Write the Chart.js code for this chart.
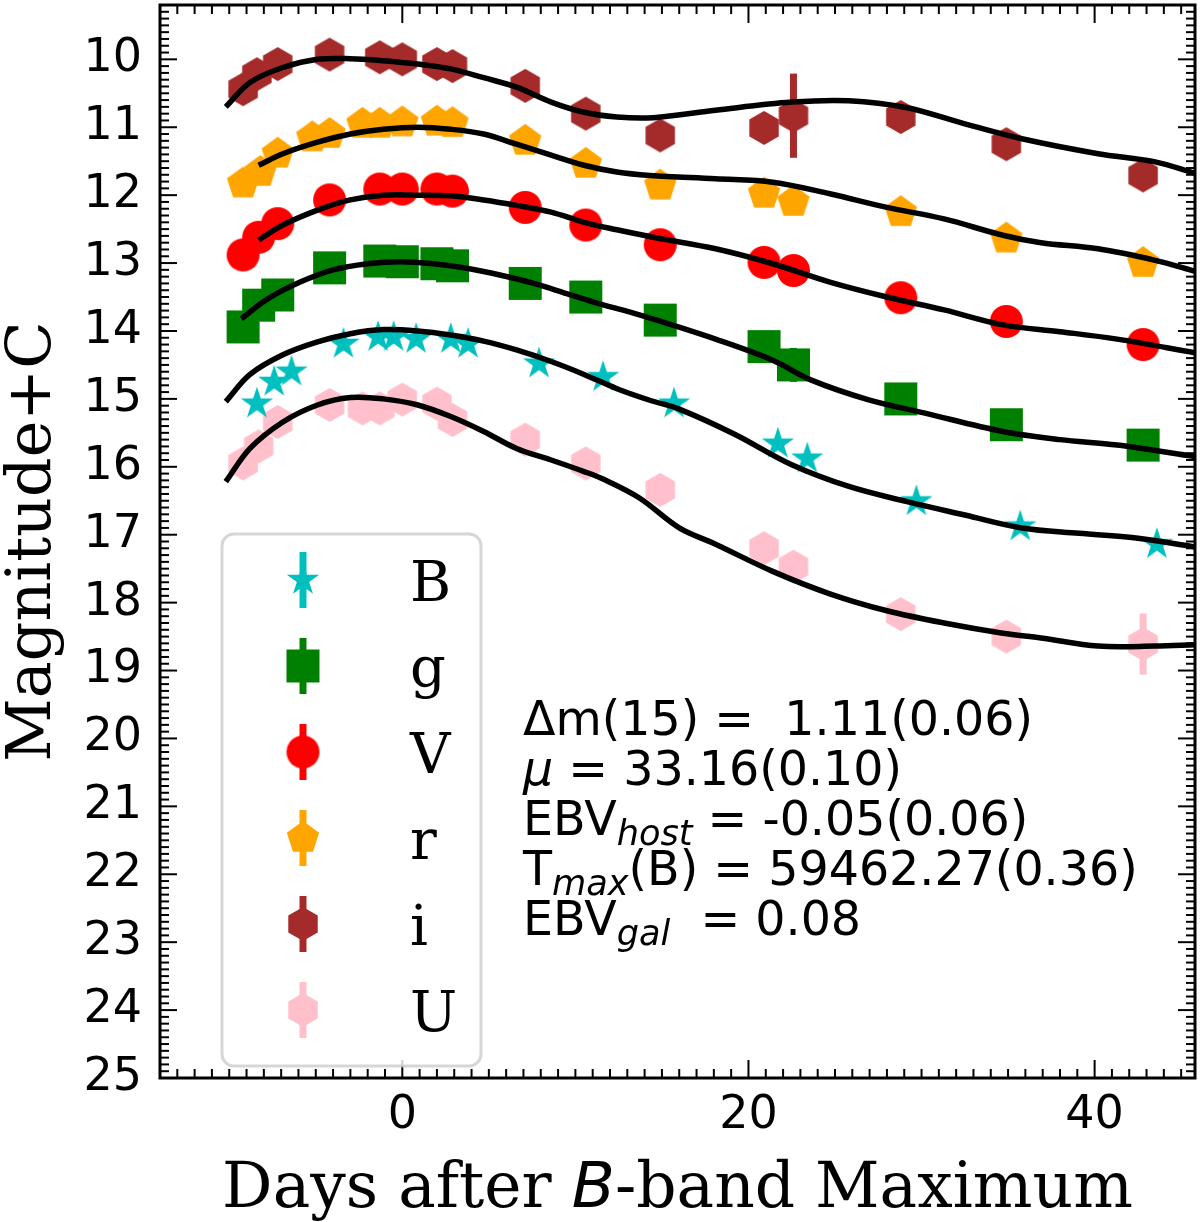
<!DOCTYPE html>
<html>
<head>
<meta charset="utf-8">
<script src="https://cdn.jsdelivr.net/npm/chart.js@4.4.0/dist/chart.umd.min.js"></script>
<style>
  html, body { margin: 0; padding: 0; background: #fff; }
</style>
</head>
<body>
<canvas id="lc" width="1200" height="1222"></canvas>
<script>
// ======================
// Photometry (phase in days from B max, magnitude + C)
// ======================
const bPhase = [-8.4, -7.4, -6.4, -3.4, -1.4, -0.5, 0.8, 2.8, 3.8, 7.9, 11.6, 15.7, 21.7, 23.4, 29.7, 35.7, 43.6];
const bMag   = [15.07, 14.75, 14.60, 14.19, 14.09, 14.09, 14.12, 14.12, 14.19, 14.48, 14.68, 15.07, 15.66, 15.88, 16.51, 16.88, 17.14];
const bErr   = [0.03, 0.03, 0.03, 0.03, 0.03, 0.03, 0.03, 0.03, 0.03, 0.03, 0.03, 0.03, 0.04, 0.04, 0.04, 0.05, 0.06];

const gPhase = [-9.2, -8.3, -7.2, -4.2, -1.3, 0.0, 2.0, 2.9, 7.1, 10.6, 14.9, 20.9, 22.6, 28.8, 34.9, 42.8];
const gMag   = [13.94, 13.62, 13.47, 13.07, 12.97, 12.98, 13.01, 13.04, 13.30, 13.50, 13.84, 14.23, 14.50, 15.00, 15.38, 15.68];
const gErr   = [0.03, 0.03, 0.03, 0.03, 0.03, 0.03, 0.03, 0.03, 0.03, 0.03, 0.03, 0.04, 0.25, 0.04, 0.05, 0.05];

const vPhase = [-9.2, -8.3, -7.2, -4.2, -1.3, 0.0, 2.0, 2.9, 7.1, 10.6, 14.9, 20.9, 22.6, 28.8, 34.9, 42.8];
const vMag   = [12.88, 12.62, 12.42, 12.07, 11.91, 11.91, 11.91, 11.94, 12.18, 12.44, 12.73, 12.99, 13.11, 13.51, 13.86, 14.20];
const vErr   = [0.03, 0.03, 0.03, 0.03, 0.03, 0.03, 0.03, 0.03, 0.03, 0.03, 0.03, 0.04, 0.05, 0.04, 0.05, 0.05];

const rPhase = [-9.2, -8.2, -7.2, -5.2, -4.2, -2.3, -1.3, 0.0, 2.0, 2.9, 7.1, 10.6, 14.9, 20.9, 22.6, 28.8, 34.9, 42.8];
const rMag   = [11.83, 11.66, 11.39, 11.15, 11.10, 10.95, 10.95, 10.93, 10.92, 10.94, 11.20, 11.54, 11.86, 11.98, 12.10, 12.25, 12.64, 13.00];
const rErr   = [0.03, 0.03, 0.03, 0.03, 0.03, 0.03, 0.03, 0.03, 0.03, 0.03, 0.03, 0.03, 0.03, 0.04, 0.17, 0.04, 0.05, 0.05];

const iPhase = [-9.2, -8.4, -7.2, -4.2, -1.3, 0.0, 2.0, 2.9, 7.1, 10.6, 14.9, 20.9, 22.6, 28.8, 34.9, 42.8];
const iMag   = [10.44, 10.22, 10.07, 9.93, 9.97, 10.00, 10.07, 10.10, 10.39, 10.80, 11.12, 11.01, 10.83, 10.85, 11.25, 11.71];
const iErr   = [0.03, 0.03, 0.03, 0.03, 0.03, 0.03, 0.03, 0.03, 0.03, 0.03, 0.03, 0.04, 0.62, 0.04, 0.05, 0.05];

const uPhase = [-9.2, -8.3, -7.2, -4.2, -2.3, -1.3, 0.0, 2.0, 2.9, 7.1, 10.6, 14.9, 20.9, 22.6, 28.8, 34.9, 42.8];
const uMag   = [15.95, 15.70, 15.34, 15.09, 15.14, 15.14, 15.01, 15.07, 15.31, 15.60, 15.95, 16.34, 17.20, 17.47, 18.17, 18.50, 18.61];
const uErr   = [0.04, 0.04, 0.04, 0.04, 0.04, 0.04, 0.04, 0.04, 0.04, 0.04, 0.05, 0.06, 0.08, 0.08, 0.08, 0.08, 0.45];

// ======================
// Template fits
// ======================
const bFitPhase = [-10.2, -8.8, -6.9, -4.9, -3.0, -1.1, 0.9, 2.8, 4.7, 6.6, 8.6, 10.5, 12.4, 14.3, 16.0, 19.2, 22.5, 25.8, 29.1, 32.5, 35.8, 39.1, 42.4, 45.8];
const bFitMag   = [15.04, 14.64, 14.35, 14.16, 14.04, 13.98, 14.00, 14.06, 14.15, 14.28, 14.45, 14.64, 14.85, 15.02, 15.15, 15.52, 15.97, 16.29, 16.51, 16.71, 16.90, 16.98, 17.05, 17.18];

const gFitPhase = [-9.3, -7.8, -5.9, -4.0, -2.0, -0.1, 1.8, 3.8, 5.7, 7.6, 9.5, 11.4, 13.4, 14.7, 18.1, 21.4, 23.6, 26.9, 30.2, 34.7, 38.0, 41.3, 45.8];
const gFitMag   = [13.82, 13.53, 13.28, 13.10, 13.01, 12.98, 13.01, 13.08, 13.18, 13.30, 13.45, 13.60, 13.74, 13.84, 14.12, 14.43, 14.72, 15.01, 15.21, 15.48, 15.60, 15.68, 15.85];

const vFitPhase = [-8.3, -6.9, -4.9, -3.0, -1.1, 0.9, 2.8, 4.7, 6.6, 8.6, 10.5, 12.4, 14.5, 18.1, 21.4, 24.7, 28.0, 31.3, 34.7, 38.0, 41.3, 45.8];
const vFitMag   = [12.66, 12.44, 12.22, 12.07, 12.00, 12.00, 12.01, 12.07, 12.15, 12.25, 12.40, 12.51, 12.62, 12.79, 13.01, 13.28, 13.50, 13.69, 13.91, 14.01, 14.12, 14.32];

const rFitPhase = [-8.3, -6.9, -4.9, -3.0, -1.1, 0.9, 2.8, 4.7, 6.6, 8.6, 10.5, 12.4, 14.3, 18.1, 21.4, 24.7, 28.0, 31.3, 34.7, 36.9, 40.2, 43.5, 45.8];
const rFitMag   = [11.56, 11.39, 11.22, 11.10, 11.03, 11.00, 11.03, 11.10, 11.25, 11.41, 11.56, 11.66, 11.71, 11.76, 11.81, 11.98, 12.18, 12.35, 12.59, 12.70, 12.79, 12.96, 13.12];

const iFitPhase = [-10.2, -8.8, -6.9, -4.9, -3.0, -1.1, 0.9, 2.8, 4.7, 6.6, 8.6, 10.5, 12.4, 14.5, 18.1, 22.5, 25.8, 29.1, 32.5, 35.8, 40.2, 43.5, 45.8];
const iFitMag   = [10.70, 10.34, 10.12, 10.00, 9.99, 10.02, 10.07, 10.14, 10.27, 10.41, 10.63, 10.78, 10.85, 10.86, 10.75, 10.63, 10.61, 10.71, 10.95, 11.17, 11.39, 11.51, 11.68];

const uFitPhase = [-10.2, -8.8, -6.9, -4.9, -3.0, -1.1, 0.9, 2.8, 4.7, 6.6, 8.6, 10.5, 11.5, 13.7, 16.0, 18.1, 21.4, 24.7, 28.0, 31.3, 34.7, 36.9, 40.2, 43.5, 45.8];
const uFitMag   = [16.22, 15.73, 15.34, 15.09, 14.98, 15.00, 15.09, 15.26, 15.48, 15.73, 15.90, 16.07, 16.17, 16.46, 16.90, 17.14, 17.54, 17.87, 18.12, 18.30, 18.45, 18.52, 18.64, 18.64, 18.62];

// axis ticks
const xTickValues = [0, 20, 40];
const yTickValues = [10, 11, 12, 13, 14, 15, 16, 17, 18, 19, 20, 21, 22, 23, 24, 25];

// fit parameters box
const fitLines = [
  [{ t: '\u0394m(15) =  1.11(0.06)' }],
  [{ t: '\u03bc', it: true }, { t: ' = 33.16(0.10)' }],
  [{ t: 'EBV' }, { t: 'host', it: true, sub: true }, { t: ' = -0.05(0.06)' }],
  [{ t: 'T' }, { t: 'max', it: true, sub: true }, { t: '(B) = 59462.27(0.36)' }],
  [{ t: 'EBV' }, { t: 'gal', it: true, sub: true }, { t: '  = 0.08' }]
];

// ======================
// Marker glyphs (matplotlib-like shapes)
// ======================
function makeMarker(shape, color, s) {
  const c = document.createElement('canvas');
  c.width = s + 4; c.height = s + 4;
  const g = c.getContext('2d');
  const cx = c.width / 2, cy = c.height / 2, r = s / 2;
  g.fillStyle = color;
  g.beginPath();
  if (shape === 'circle') {
    g.arc(cx, cy, r, 0, Math.PI * 2);
  } else if (shape === 'square') {
    g.rect(cx - r, cy - r, s, s);
  } else {
    const n = shape === 'star' ? 10 : (shape === 'pentagon' ? 5 : 6);
    for (let k = 0; k < n; k++) {
      const a = -Math.PI / 2 + k * 2 * Math.PI / n;
      const rr = (shape === 'star' && k % 2 === 1) ? r * 0.381966 : r;
      const px = cx + rr * Math.cos(a), py = cy + rr * Math.sin(a);
      k === 0 ? g.moveTo(px, py) : g.lineTo(px, py);
    }
    g.closePath();
  }
  g.fill();
  return c;
}

function band(label, phase, mag, err, shape, color, size) {
  return {
    type: 'scatter',
    label: label,
    data: phase.map((p, k) => ({ x: p, y: mag[k] })),
    yErr: err,
    errColor: color,
    pointStyle: makeMarker(shape, color, size),
    order: 2
  };
}

function fit(phase, mag) {
  return {
    type: 'line',
    label: '',
    data: phase.map((p, k) => ({ x: p, y: mag[k] })),
    borderColor: '#000',
    borderWidth: 5.5,
    pointRadius: 0,
    tension: 0.35,
    fill: false,
    order: 1
  };
}

// ======================
// Plugins
// ======================
const errorBars = {
  id: 'errorBars',
  beforeDatasetsDraw(chart) {
    const { ctx, scales: { x, y } } = chart;
    ctx.save();
    ctx.lineWidth = 7;
    chart.data.datasets.forEach(ds => {
      if (!ds.yErr) return;
      ctx.strokeStyle = ds.errColor;
      ds.data.forEach((pt, k) => {
        const px = x.getPixelForValue(pt.x);
        ctx.beginPath();
        ctx.moveTo(px, y.getPixelForValue(pt.y - ds.yErr[k]));
        ctx.lineTo(px, y.getPixelForValue(pt.y + ds.yErr[k]));
        ctx.stroke();
      });
    });
    ctx.restore();
  }
};

const frame = {
  id: 'frame',
  afterDatasetsDraw(chart) {
    const { ctx, chartArea: a, scales: { x, y } } = chart;
    const seg = (x0, y0, x1, y1) => { ctx.beginPath(); ctx.moveTo(x0, y0); ctx.lineTo(x1, y1); ctx.stroke(); };
    ctx.save();
    ctx.strokeStyle = '#000';
    ctx.lineWidth = 2;
    for (let d = Math.ceil(x.min); d <= x.max; d++) {
      const px = x.getPixelForValue(d);
      const len = xTickValues.includes(d) ? 18 : 9;
      seg(px, a.bottom, px, a.bottom - len);
      seg(px, a.top, px, a.top + len);
    }
    for (let k = Math.ceil(y.min * 10); k <= Math.round(y.max * 10); k++) {
      const py = y.getPixelForValue(k / 10);
      const len = k % 10 === 0 ? 17 : 9;
      seg(a.left, py, a.left + len, py);
      seg(a.right, py, a.right - len, py);
    }
    ctx.lineWidth = 3;
    ctx.strokeRect(a.left, a.top, a.right - a.left, a.bottom - a.top);
    ctx.restore();
  }
};

function drawRuns(ctx, x, y, runs, size, family) {
  runs.forEach(r => {
    const fs = r.sub ? size * 0.74 : size;
    ctx.font = (r.it ? 'italic ' : '') + fs + 'px ' + (r.fam || family);
    ctx.fillText(r.t, x, y + (r.sub ? size * 0.21 : 0));
    x += ctx.measureText(r.t).width;
  });
}

function runsWidth(ctx, runs, size, family) {
  let w = 0;
  runs.forEach(r => {
    ctx.font = (r.it ? 'italic ' : '') + (r.sub ? size * 0.74 : size) + 'px ' + (r.fam || family);
    w += ctx.measureText(r.t).width;
  });
  return w;
}

const annotations = {
  id: 'annotations',
  afterDraw(chart) {
    const { ctx, chartArea: a } = chart;
    ctx.save();
    ctx.fillStyle = '#000';
    ctx.textBaseline = 'alphabetic';
    ctx.textAlign = 'left';

    // axis titles
    const serif = '"DejaVu Serif", serif';
    const xRuns = [{ t: 'Days after ' }, { t: 'B', it: true, fam: '"DejaVu Sans", sans-serif' }, { t: '-band Maximum' }];
    const xw = runsWidth(ctx, xRuns, 63, serif);
    drawRuns(ctx, (a.left + a.right) / 2 - xw / 2, 1207, xRuns, 63, serif);

    ctx.save();
    ctx.translate(50, (a.top + a.bottom) / 2);
    ctx.rotate(-Math.PI / 2);
    ctx.font = '62px ' + serif;
    ctx.textAlign = 'center';
    ctx.fillText('Magnitude+C', 0, 0);
    ctx.restore();

    // fit parameters
    fitLines.forEach((runs, k) => drawRuns(ctx, 523, 735 + k * 50, runs, 47.5, '"DejaVu Sans", sans-serif'));

    // legend
    const lx = 222, ly = 534, lw = 259, lh = 532;
    ctx.beginPath();
    ctx.roundRect(lx, ly, lw, lh, 12);
    ctx.fillStyle = 'rgba(255,255,255,0.8)';
    ctx.fill();
    ctx.lineWidth = 3;
    ctx.strokeStyle = 'rgba(204,204,204,0.8)';
    ctx.stroke();

    const bands = chart.data.datasets.filter(ds => ds.yErr);
    bands.forEach((ds, k) => {
      const cy = 580 + k * 86;
      ctx.strokeStyle = ds.errColor;
      ctx.lineWidth = 7;
      ctx.beginPath(); ctx.moveTo(303, cy - 28); ctx.lineTo(303, cy + 28); ctx.stroke();
      const img = ds.pointStyle;
      ctx.drawImage(img, 303 - img.width / 2, cy - img.height / 2);
      ctx.fillStyle = '#000';
      ctx.font = '56px ' + serif;
      ctx.fillText(ds.label, 410, cy + 21);
    });
    ctx.restore();
  }
};

// ======================
// Chart
// ======================
const tickFont = { family: '"DejaVu Sans", sans-serif', size: 46 };

const lcChart = new Chart(document.getElementById('lc').getContext('2d'), {
  type: 'scatter',
  data: {
    datasets: [
      band('B', bPhase, bMag, bErr, 'star', '#00bfbf', 34),
      band('g', gPhase, gMag, gErr, 'square', '#008000', 33),
      band('V', vPhase, vMag, vErr, 'circle', '#ff0000', 33),
      band('r', rPhase, rMag, rErr, 'pentagon', '#ffa500', 34),
      band('i', iPhase, iMag, iErr, 'hexagon', '#a52a2a', 34),
      band('U', uPhase, uMag, uErr, 'hexagon', '#ffc0cb', 34),
      fit(bFitPhase, bFitMag),
      fit(gFitPhase, gFitMag),
      fit(vFitPhase, vFitMag),
      fit(rFitPhase, rFitMag),
      fit(iFitPhase, iFitMag),
      fit(uFitPhase, uFitMag)
    ]
  },
  options: {
    responsive: false,
    animation: false,
    devicePixelRatio: 1,
    layout: { padding: { top: 2.5, right: 5, left: 0, bottom: 0 } },
    plugins: {
      legend: { display: false },
      tooltip: { enabled: false }
    },
    scales: {
      x: {
        type: 'linear',
        min: -14,
        max: 45.8,
        grid: { display: false },
        border: { display: false },
        ticks: { font: tickFont, color: '#000', padding: 2, maxRotation: 0, autoSkip: false },
        afterBuildTicks: s => { s.ticks = xTickValues.map(v => ({ value: v })); },
        afterFit: s => { s.height = 144; s.paddingLeft = 0; s.paddingRight = 0; }
      },
      y: {
        type: 'linear',
        reverse: true,
        min: 9.2,
        max: 25,
        grid: { display: false },
        border: { display: false },
        ticks: { font: tickFont, color: '#000', padding: 10, autoSkip: false },
        afterBuildTicks: s => { s.ticks = yTickValues.map(v => ({ value: v })); },
        afterFit: s => { s.width = 160; s.paddingTop = 0; s.paddingBottom = 0; }
      }
    }
  },
  plugins: [errorBars, frame, annotations]
});
</script>
</body>
</html>
